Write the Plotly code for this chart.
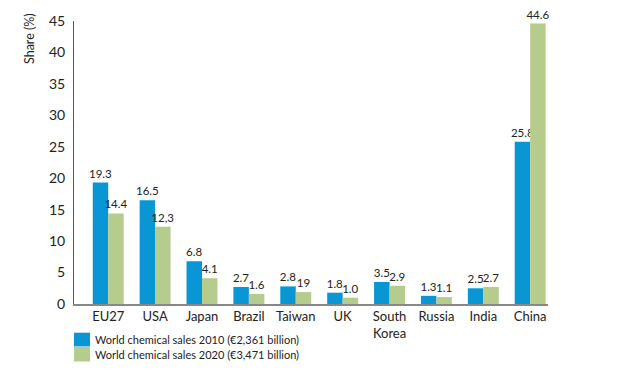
import plotly.graph_objects as go

categories = ["EU27", "USA", "Japan", "Brazil", "Taiwan", "UK", "South<br>Korea", "Russia", "India", "China"]
sales_2010 = [19.3, 16.5, 6.8, 2.7, 2.8, 1.8, 3.5, 1.3, 2.5, 25.8]
sales_2020 = [14.4, 12.3, 4.1, 1.6, 1.9, 1.0, 2.9, 1.1, 2.7, 44.6]
labels_2010 = ["19.3", "16.5", "6.8", "2.7", "2.8", "1.8", "3.5", "1.3", "2.5", "25.8"]
labels_2020 = ["14.4", "12,3", "4.1", "1.6", "19", "1.0", "2.9", "1.1", "2.7", "44.6"]
series_names = ["World chemical sales 2010 (€2,361 billion)", "World chemical sales 2020 (€3,471 billion)"]
series_colors = ["#0996D4", "#B5CC8D"]
y_ticks = [0, 5, 10, 15, 20, 25, 30, 35, 40, 45]

FONT = "Lato"
fig = go.Figure()
for vals, labs, name, col in [(sales_2010, labels_2010, series_names[0], series_colors[0]),
                              (sales_2020, labels_2020, series_names[1], series_colors[1])]:
    fig.add_trace(go.Bar(x=list(range(len(categories))), y=vals, name=name,
                         marker=dict(color=col, line=dict(width=0)), text=labs, textposition="outside",
                         constraintext="none",
                         textfont=dict(family=FONT, size=11.5, color="#222"), cliponaxis=False))

# Manual legend (paper coordinates)
shapes = []
annotations = []
leg_rows = [(-0.1014, -0.150, -0.1254), (-0.152, -0.2032, -0.1767)]
for (y1, y0, yt), name, col in zip(leg_rows, series_names, series_colors):
    shapes.append(dict(type="rect", xref="paper", yref="paper", x0=0.0, x1=0.0338, y0=y0, y1=y1,
                       fillcolor=col, line=dict(width=0)))
    annotations.append(dict(text=name, xref="paper", yref="paper", x=0.040, y=yt,
                            xanchor="left", yanchor="middle", showarrow=False,
                            font=dict(family=FONT, size=11, color="#222")))
annotations.append(dict(text="Share (%)", textangle=-90, xref="paper", yref="paper",
                        x=-0.074, y=1.035, xanchor="right", yanchor="top", showarrow=False,
                        font=dict(family=FONT, size=12.5, color="#222")))

fig.update_layout(
    width=617, height=373,
    margin=dict(l=74, r=69, t=21, b=69),
    paper_bgcolor="white", plot_bgcolor="white",
    barmode="group", bargap=0.34, bargroupgap=0,
    font=dict(family=FONT, size=12, color="#222"),
    showlegend=False,
    xaxis=dict(tickmode="array", tickvals=list(range(len(categories))), ticktext=categories,
               range=[-0.73, 9.38], showline=True, linecolor="#888", linewidth=1.5,
               ticks="", showgrid=False, zeroline=False,
               tickfont=dict(family=FONT, size=13, color="#222")),
    yaxis=dict(range=[0, 45], tickvals=y_ticks, showline=True, linecolor="#555", linewidth=1,
               ticks="", showgrid=False, zeroline=False, ticklabelstandoff=5,
               tickfont=dict(family=FONT, size=14, color="#222")),
    shapes=shapes,
    annotations=annotations,
)
fig.write_html("out.html", config={"displayModeBar": False},
               post_script="document.body.style.margin='0';document.body.style.padding='0';document.body.style.overflow='hidden';")
